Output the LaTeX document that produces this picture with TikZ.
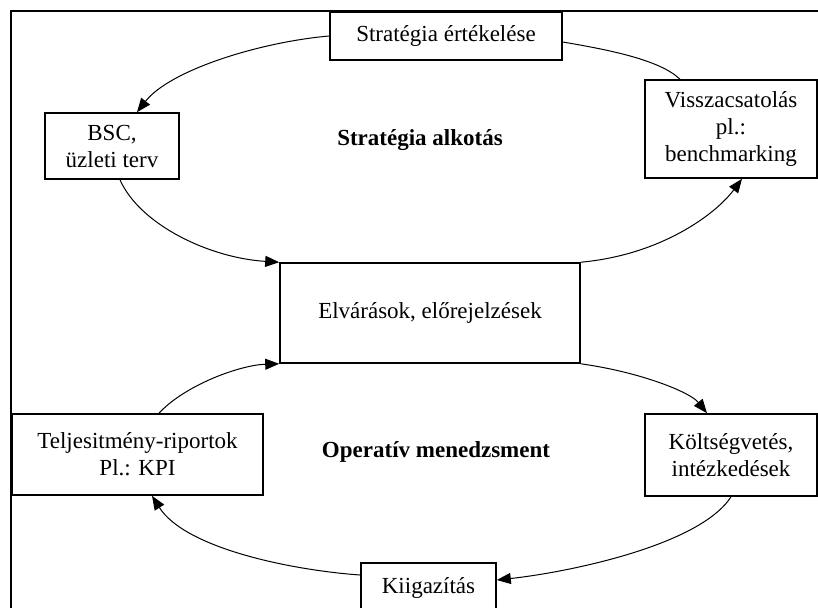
\documentclass[tikz,border=0pt]{standalone}
\usepackage{fontspec}
\setmainfont{Liberation Serif}
\usepackage{tikz}
\usetikzlibrary{arrows.meta}

\begin{document}
\begin{tikzpicture}[x=0.5pt, y=-0.5pt,
    box/.style={draw, line width=0.8pt, fill=white, align=center, inner sep=0pt},
    flow/.style={-{Triangle[length=7pt, width=5.5pt]}, line width=0.5pt},
    font=\fontsize{11.5}{13.5}\selectfont]
        \useasboundingbox (0,0) rectangle (818,607);
        % Frame
        \draw[line width=1pt] (11,640) -- (11,11) -- (840,11);

        % Nodes
        \node[box, minimum width=116pt, minimum height=24pt] (eval) at (446,36) {Stratégia értékelése};
        \node[box, minimum width=67pt, minimum height=33pt] (bsc) at (112,146) {BSC,\\üzleti terv};
        \node[box, minimum width=86pt, minimum height=49pt] (feedback) at (731,129) {Visszacsatolás\\pl.:\\benchmarking};
        \node[box, minimum width=150pt, minimum height=50pt] (expect) at (430,313) {Elvárások, előrejelzések};
        \node[box, minimum width=125.5pt, minimum height=40.5pt] (report) at (137.5,454.5) {Teljesitmény-riportok\\Pl.: KPI};
        \node[box, minimum width=86pt, minimum height=41pt] (budget) at (731,455) {Költségvetés,\\intézkedések};
        \node[box, minimum width=67.5pt, minimum height=25pt] (adjust) at (428.5,588) {Kiigazítás};

        \node[font=\fontsize{11.5}{13.5}\selectfont\bfseries] (plan) at (420,140) {Stratégia alkotás};
        \node[font=\fontsize{11.5}{13.5}\selectfont\bfseries] (operate) at (436,452) {Operatív menedzsment};

        % Arrows
        \draw[flow] (eval.west) .. controls (260,42) and (170,70) .. ([xshift=12.5pt]bsc.north);
        \draw[line width=0.5pt] ([yshift=-3pt]eval.east) .. controls (610,50) and (660,60) .. ([xshift=-25.5pt]feedback.north);
        \draw[flow] (expect.north east) .. controls (660,255) and (715,215) .. ([xshift=5.5pt]feedback.south);
        \draw[flow] ([xshift=4pt]bsc.south) .. controls (140,225) and (210,258) .. (expect.north west);
        \draw[flow] (expect.south east) .. controls (640,372) and (690,392) .. ([xshift=-12pt]budget.north);
        \draw[flow] (budget.south) .. controls (700,545) and (570,572) .. ([yshift=4pt]adjust.east);
        \draw[flow] ([yshift=6.5pt]adjust.west) .. controls (290,570) and (185,548) .. ([xshift=7.25pt]report.south);
        \draw[flow] ([xshift=10.75pt]report.north) .. controls (185,385) and (240,365) .. (expect.south west);
\end{tikzpicture}
\end{document}
